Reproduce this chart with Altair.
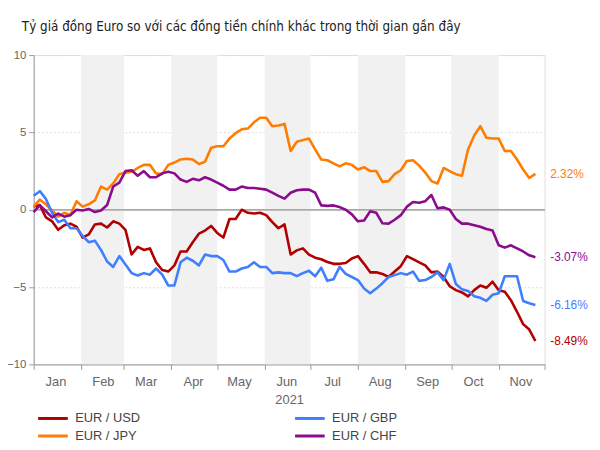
import altair as alt
import pandas as pd

title_text = "Tỷ giá đồng Euro so với các đồng tiền chính khác trong thời gian gần đây"
series_names = ["EUR / USD", "EUR / JPY", "EUR / GBP", "EUR / CHF"]
series_colors = ["#b00000", "#ff7c00", "#3f7fff", "#8a0c8c"]
band_starts = ["2021-02-01", "2021-04-01", "2021-06-01", "2021-08-01", "2021-10-01"]
band_ends = ["2021-03-01", "2021-05-01", "2021-07-01", "2021-09-01", "2021-11-01"]
x_title = "2021"
zero_level = 0

dates = pd.date_range("2021-01-01", periods=83, freq="4D")

usd = [0.2, 0.3, -0.5, -0.75, -1.3, -1.0, -0.9, -1.1, -1.8, -1.6,
       -0.95, -0.9, -1.15, -0.75, -0.9, -1.3, -2.9, -2.4, -2.6, -2.5,
       -3.4, -3.9, -4.0, -3.6, -2.7, -2.7, -2.1, -1.55, -1.35, -1.05,
       -1.5, -1.8, -0.6, -0.6, 0.0, -0.2, -0.25, -0.2, -0.35, -0.8,
       -1.2, -0.95, -2.9, -2.63, -2.5, -2.9, -3.1, -3.2, -3.38, -3.5,
       -3.5, -3.45, -3.15, -3.0, -3.5, -4.05, -4.05, -4.15, -4.35, -4.0,
       -3.65, -3.0, -3.2, -3.4, -3.6, -4.05, -4.0, -4.35, -4.95, -5.2,
       -5.35, -5.6, -5.2, -4.9, -5.05, -4.65, -5.2, -5.3, -5.85, -6.6,
       -7.4, -7.75, -8.49]
jpy = [0.2, 0.65, 0.35, -0.05, -0.45, -0.2, -0.35, 0.55, 0.2, 0.35,
       0.6, 1.5, 1.3, 1.7, 2.3, 2.4, 2.45, 2.7, 2.9, 2.9,
       2.35, 2.3, 2.9, 3.05, 3.25, 3.3, 3.25, 2.95, 3.1, 4.0,
       4.1, 4.1, 4.6, 4.95, 5.2, 5.25, 5.65, 5.95, 5.95, 5.4,
       5.45, 5.55, 3.8, 4.4, 4.5, 4.6, 3.9, 3.25, 3.2, 3.0,
       2.8, 3.0, 2.9, 2.6, 2.75, 2.5, 2.5, 1.8, 1.85, 2.3,
       2.55, 3.15, 3.2, 2.85, 2.4, 1.85, 1.7, 2.7, 2.5, 2.3,
       2.2, 3.9, 4.8, 5.4, 4.65, 4.6, 4.6, 3.8, 3.8, 3.25,
       2.6, 2.05, 2.32]
gbp = [0.9, 1.2, 0.7, -0.2, -0.8, -0.65, -1.2, -1.2, -1.7, -2.1,
       -2.0, -2.6, -3.35, -3.7, -3.0, -3.55, -4.1, -4.25, -4.1, -4.2,
       -3.8, -4.2, -4.9, -4.9, -3.4, -3.1, -3.3, -3.6, -2.9, -3.0,
       -3.0, -3.25, -4.0, -4.0, -3.8, -3.7, -3.4, -3.7, -3.7, -4.1,
       -4.05, -4.1, -4.1, -4.3, -4.1, -3.95, -4.3, -3.75, -4.6, -4.5,
       -3.7, -4.15, -4.35, -4.55, -5.1, -5.4, -5.1, -4.75, -4.35, -4.23,
       -4.1, -4.2, -4.0, -4.6, -4.55, -4.35, -4.05, -4.55, -3.5, -4.8,
       -5.15, -5.25, -5.6, -5.7, -5.9, -5.5, -5.4, -4.3, -4.3, -4.3,
       -5.9, -6.05, -6.16]
chf = [-0.15, 0.3, -0.1, -0.5, -0.25, -0.45, -0.35, 0.0, -0.05, 0.05,
       -0.15, -0.05, 0.3, 1.5, 1.75, 2.5, 2.55, 2.2, 2.5, 2.1,
       2.1, 2.35, 2.45, 2.35, 1.95, 1.8, 2.0, 1.9, 2.1, 1.95,
       1.75, 1.55, 1.3, 1.3, 1.5, 1.4, 1.4, 1.35, 1.3, 1.1,
       0.9, 0.72, 1.1, 1.26, 1.3, 1.3, 1.1, 0.28, 0.25, 0.28,
       0.17, 0.0, -0.3, -0.75, -0.7, -0.1, -0.2, -0.88, -0.9, -0.65,
       -0.35, 0.2, 0.5, 0.45, 0.55, 0.95, 0.1, 0.15, 0.0, -0.6,
       -0.9, -0.9, -1.0, -1.1, -1.25, -1.35, -2.3, -2.45, -2.3, -2.5,
       -2.7, -2.95, -3.07]

series_values = [usd, jpy, gbp, chf]

rows = []
for name, vals in zip(series_names, series_values):
    for d, v in zip(dates, vals):
        rows.append({"date": d.strftime("%Y-%m-%d"), "series": name, "value": v})
df = pd.DataFrame(rows)

last = pd.DataFrame({
    "date": [dates[len(v) - 1].strftime("%Y-%m-%d") for v in series_values],
    "series": series_names,
    "value": [v[-1] for v in series_values],
    "label": [f"{v[-1]:.2f}%" for v in series_values],
})

bands = pd.DataFrame({"start": band_starts, "end": band_ends})

W, H = 517, 313
FONT = "Liberation Sans"

x_domain = [alt.DateTime(year=2021, month=1, date=1, utc=True),
            alt.DateTime(year=2021, month=12, date=1, utc=True)]
x_ticks = [alt.DateTime(year=2021, month=m, date=1, utc=True) for m in range(1, 13)]
x_scale = alt.Scale(type="utc", domain=x_domain)
y_scale = alt.Scale(domain=[-10, 10], nice=False)
color_scale = alt.Scale(domain=series_names, range=series_colors)

x_axis = alt.Axis(
    values=x_ticks,
    labelExpr="utcmonth(datum.value) == 11 ? '' : utcFormat(datum.value, '%b')",
    labelOffset=22, labelAlign="center", labelFontSize=13, labelColor="#666",
    labelFont=FONT, labelPadding=6, tickSize=5, tickColor="#999", domainColor="#999",
    grid=False, title=x_title, titleFont=FONT, titleFontSize=13,
    titleFontWeight="normal", titleColor="#666", titlePadding=6)
y_axis = alt.Axis(
    values=[-10, -5, 0, 5, 10], labelFontSize=11.5, labelColor="#666", labelFont=FONT,
    tickSize=5, tickColor="#999", domainColor="#999", labelPadding=3,
    grid=True, gridColor="#dddddd", gridDash=[2, 2], title=None)

band_layer = alt.Chart(bands).mark_rect(color="#f1f1f1").encode(
    x=alt.X("start:T", scale=x_scale, axis=x_axis),
    x2="end:T",
    y=alt.value(0),
    y2=alt.value(H),
)

zero_rule = alt.Chart(bands).mark_rule(color="#aaaaaa", strokeWidth=1).encode(
    y=alt.YDatum(zero_level, scale=y_scale, axis=y_axis),
)

lines = alt.Chart(df).mark_line(strokeWidth=2.6, strokeJoin="round").encode(
    x=alt.X("date:T", scale=x_scale, axis=x_axis),
    y=alt.Y("value:Q", scale=y_scale, axis=y_axis),
    color=alt.Color("series:N", scale=color_scale, legend=alt.Legend(
        orient="none", legendX=13, legendY=361, columns=2, title=None,
        symbolType="M-3,0L3,0", symbolStrokeWidth=3, symbolSize=100,
        labelFontSize=13, labelColor="#444", labelFont=FONT, labelOffset=16,
        columnPadding=150, rowPadding=4)),
)

end_labels = alt.Chart(last).mark_text(align="left", dx=15, fontSize=12, font=FONT).encode(
    x=alt.X("date:T", scale=x_scale, axis=x_axis),
    y=alt.Y("value:Q", scale=y_scale, axis=y_axis),
    text="label:N",
    color=alt.Color("series:N", scale=color_scale, legend=None),
)

chart = alt.layer(band_layer, zero_rule, lines, end_labels).properties(
    width=W, height=H,
    autosize=alt.AutoSizeParams(type="none"),
    padding={"left": 26, "top": 45, "right": 48, "bottom": 82},
    title=alt.TitleParams(title_text, anchor="start", frame="group", fontSize=13.5,
                          font="Liberation Sans Narrow, DejaVu Sans Condensed, sans-serif",
                          fontWeight="normal", color="#222", dx=-12, offset=16),
).configure_view(stroke=None).configure(background="white")

chart.save("out.html", embed_options={"renderer": "svg", "actions": False})
